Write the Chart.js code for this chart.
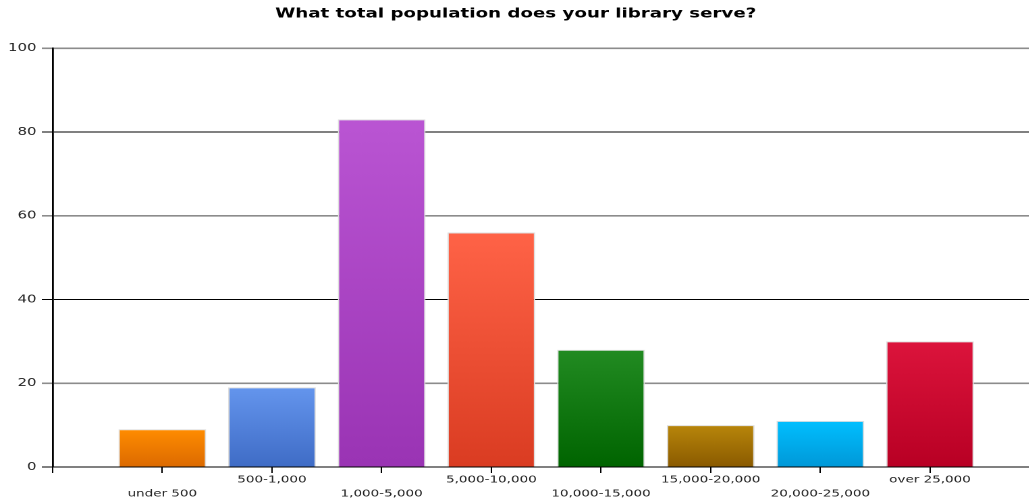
<!DOCTYPE html>
<html>
<head>
<meta charset="utf-8">
<title>What total population does your library serve?</title>
<script src="https://cdn.jsdelivr.net/npm/chart.js@4"></script>
<style>
  html, body { margin: 0; padding: 0; background: #fff; overflow: hidden; }
  /* the reference is horizontally stretched, so draw narrow and stretch */
  #wrap { width: 762px; height: 501px; transform: scaleX(1.35); transform-origin: 0 0; }
</style>
</head>
<body>
<div id="wrap"><canvas id="chart"></canvas></div>
<script>
// Data
const categories = ['under 500', '500-1,000', '1,000-5,000', '5,000-10,000',
    '10,000-15,000', '15,000-20,000', '20,000-25,000', 'over 25,000'];
const responses = [9, 19, 83, 56, 28, 10, 11, 30];
const yTicks = [0, 20, 40, 60, 80, 100];

// top / bottom colours of each bar's gradient
const topColors = ['#ff8c00', '#6495ed', '#ba55d3', '#ff6347', '#228b22', '#b8860b', '#00bfff', '#dc143c'];
const bottomColors = ['#dc6a00', '#3f6cc6', '#9a34b4', '#da3c22', '#006400', '#8a5a00', '#0098d8', '#b80024'];

function barGradient(context) {
    const chart = context.chart;
    const i = context.dataIndex;
    if (!chart.chartArea || i === undefined) {
        return topColors[i || 0];
    }
    const y = chart.scales.y;
    const g = chart.ctx.createLinearGradient(0, y.getPixelForValue(responses[i]), 0, y.getPixelForValue(0));
    g.addColorStop(0, topColors[i]);
    g.addColorStop(1, bottomColors[i]);
    return g;
}

new Chart(document.getElementById('chart'), {
    type: 'bar',
    data: {
        datasets: [{
            label: 'Responses',
            data: responses.map((v, i) => ({x: i + 1, y: v})),
            backgroundColor: barGradient,
            borderColor: '#dddddd',
            borderWidth: 1,
            categoryPercentage: 1,
            barPercentage: 0.8
        }]
    },
    options: {
        responsive: true,
        maintainAspectRatio: false,
        devicePixelRatio: 2,
        animation: false,
        layout: {padding: {left: 2, right: 0, top: 0, bottom: 0}},
        plugins: {
            legend: {display: false},
            tooltip: {enabled: false},
            title: {
                display: true,
                text: 'What total population does your library serve?',
                color: '#000',
                font: {family: 'DejaVu Sans', size: 13.5, weight: 'bold'},
                padding: {top: 6, bottom: 26}
            }
        },
        scales: {
            x: {
                type: 'linear',
                offset: false,
                min: 0,
                max: 8.9,
                afterBuildTicks: (scale) => {
                    scale.ticks = [0].concat(categories.map((c, i) => i + 1)).map(v => ({value: v}));
                },
                ticks: {
                    autoSkip: false,
                    maxRotation: 0,
                    padding: 0,
                    color: '#222',
                    font: {family: 'DejaVu Sans', size: 10, lineHeight: 1.4},
                    callback: (value) => {
                        if (value === 0) {
                            return '';
                        }
                        const label = categories[value - 1];
                        return (value - 1) % 2 === 0 ? ['', label] : label;
                    }
                },
                grid: {offset: false, drawOnChartArea: false, drawTicks: true, tickLength: 6, color: '#000'},
                border: {display: true, color: '#000', width: 1}
            },
            y: {
                min: 0,
                max: 100,
                afterBuildTicks: (scale) => {
                    scale.ticks = yTicks.map(v => ({value: v}));
                },
                ticks: {
                    padding: 4,
                    color: '#222',
                    font: {family: 'DejaVu Sans', size: 11}
                },
                grid: {
                    tickLength: 8,
                    color: (ctx) => (ctx.tick && ctx.tick.value % 40 === 20) ? '#8c8c8c' : '#000',
                    lineWidth: (ctx) => (ctx.tick && ctx.tick.value % 40 === 20) ? 1.6 : 1
                },
                border: {display: true, color: '#000', width: 1.4}
            }
        }
    }
});
</script>
</body>
</html>
